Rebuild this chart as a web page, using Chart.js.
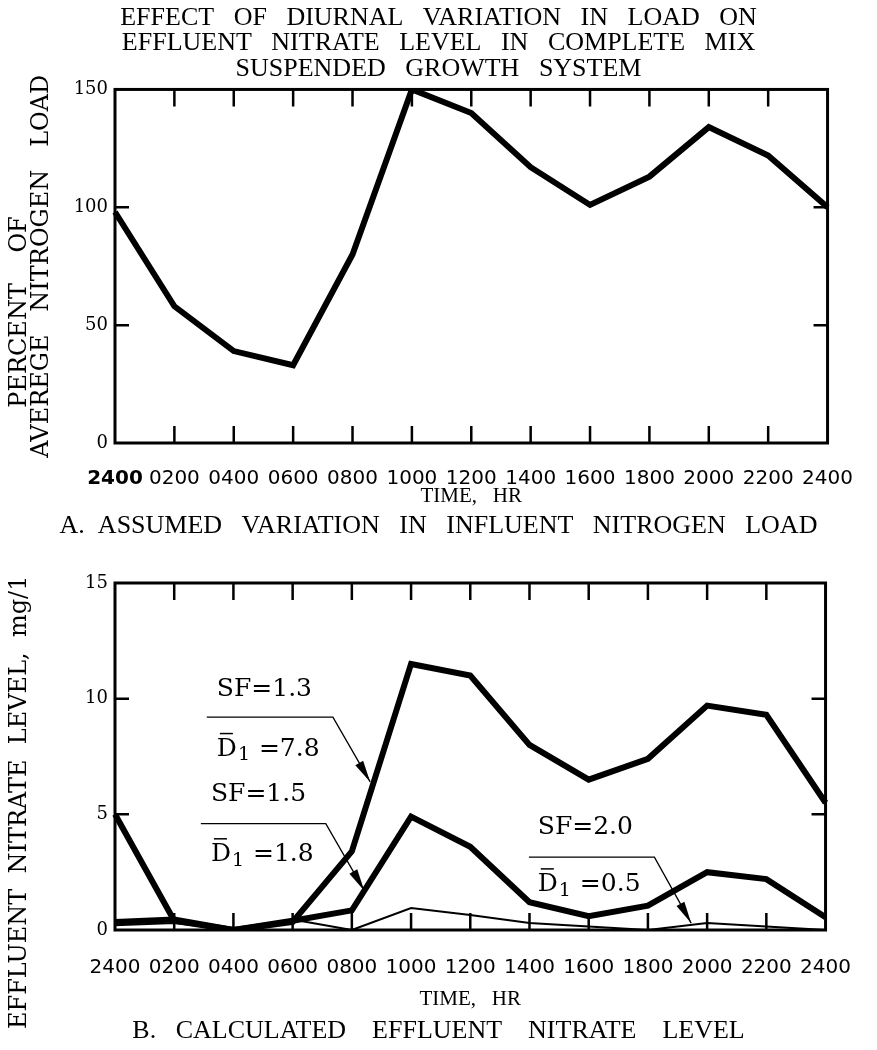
<!DOCTYPE html>
<html>
<head>
<meta charset="utf-8">
<title>Effect of diurnal variation in load on effluent nitrate level</title>
<script src="https://cdn.jsdelivr.net/npm/chart.js@4.4.1/dist/chart.umd.min.js"></script>
<style>
  body { margin: 0; background: #fff; }
  #wrap { position: relative; width: 877px; height: 1050px; }
  canvas { position: absolute; left: 0; }
</style>
</head>
<body>
<div id="wrap">
  <canvas id="load-chart" width="877" height="545" style="top:0"></canvas>
  <canvas id="nitrate-chart" width="877" height="505" style="top:545px"></canvas>
</div>
<script>
// time of day, every 2 hours, midnight to midnight
const hours = ['2400', '0200', '0400', '0600', '0800', '1000', '1200', '1400', '1600', '1800', '2000', '2200', '2400'];

// A. assumed influent nitrogen load, % of average
const loadPercent = [98, 58, 39, 33, 80, 150, 140, 117, 101, 113, 134, 122, 100];

// B. calculated effluent nitrate, mg/l
const nitrateSF13 = [5.0, 0.4, 0, 0.35, 3.4, 11.5, 11.0, 8.0, 6.5, 7.4, 9.7, 9.3, 5.5];
const nitrateSF15 = [0.35, 0.45, 0, 0.4, 0.85, 4.9, 3.6, 1.2, 0.6, 1.05, 2.5, 2.2, 0.55];
const nitrateSF20 = [0.2, 0.3, 0, 0.45, 0, 0.95, 0.65, 0.3, 0.15, 0, 0.3, 0.15, 0];

const loadAxis = { min: 0, max: 150, step: 50 };
const nitrateAxis = { min: 0, max: 15, step: 5 };

// curve labels: text spot, leader line and arrow tip, in data units (x = hour index)
const noteLabels = ['SF=1.3', 'SF=1.5', 'SF=2.0'];
const noteD1 = ['7.8', '1.8', '0.5'];
const noteText = [[1.72, 10.4], [1.62, 5.85], [7.14, 4.45]];
const noteD1Text = [[1.72, 7.8], [1.62, 3.25], [7.14, 1.95]];
const noteLeader = [[1.55, 3.68, 9.2], [1.45, 3.56, 4.6], [6.99, 9.11, 3.15]];
const noteTip = [[4.31, 6.4], [4.21, 1.7], [9.73, 0.3]];

const serif = '"Liberation Serif", serif';
const century = '"DejaVu Serif", serif';
const sans = '"DejaVu Sans", sans-serif';

// frame round the plot plus inward tick marks
const framePlugin = {
  id: 'frame',
  afterDatasetsDraw(chart) {
    const { ctx, chartArea: a, scales: { x, y } } = chart;
    ctx.save();
    ctx.strokeStyle = '#000';
    ctx.lineWidth = 3;
    ctx.strokeRect(a.left, a.top, a.width, a.height);
    ctx.lineWidth = 2.5;
    ctx.beginPath();
    for (let i = 1; i < x.ticks.length - 1; i++) {
      const px = x.getPixelForTick(i);
      ctx.moveTo(px, a.top); ctx.lineTo(px, a.top + 17);
      ctx.moveTo(px, a.bottom); ctx.lineTo(px, a.bottom - 17);
    }
    y.ticks.forEach(t => {
      if (t.value <= y.min || t.value >= y.max) return;
      const py = y.getPixelForValue(t.value);
      ctx.moveTo(a.left, py); ctx.lineTo(a.left + 14, py);
      ctx.moveTo(a.right, py); ctx.lineTo(a.right - 14, py);
    });
    ctx.stroke();
    ctx.restore();
  }
};

const notePlugin = {
  id: 'notes',
  afterDatasetsDraw(chart) {
    const { ctx, scales: { x, y } } = chart;
    ctx.save();
    ctx.fillStyle = '#000';
    ctx.strokeStyle = '#000';
    ctx.textBaseline = 'middle';
    ctx.textAlign = 'left';
    noteLabels.forEach((label, i) => {
      ctx.font = '25px ' + century;
      ctx.fillText(label, x.getPixelForValue(noteText[i][0]), y.getPixelForValue(noteText[i][1]));

      // D-bar with subscript 1
      const dx = x.getPixelForValue(noteD1Text[i][0]);
      const dy = y.getPixelForValue(noteD1Text[i][1]);
      ctx.fillText('D', dx, dy);
      const dw = ctx.measureText('D').width;
      ctx.lineWidth = 1.5;
      ctx.beginPath();
      ctx.moveTo(dx + 3, dy - 16); ctx.lineTo(dx + dw - 4, dy - 16);
      ctx.stroke();
      ctx.font = '19px ' + century;
      ctx.fillText('1', dx + dw + 1, dy + 6);
      const sw = ctx.measureText('1').width;
      ctx.font = '25px ' + century;
      ctx.fillText(' =' + noteD1[i], dx + dw + sw + 2, dy);

      // leader and arrow
      const [l0, l1, ly] = noteLeader[i];
      const bx = x.getPixelForValue(l1), by = y.getPixelForValue(ly);
      const tx = x.getPixelForValue(noteTip[i][0]), ty = y.getPixelForValue(noteTip[i][1]);
      ctx.lineWidth = 1.3;
      ctx.beginPath();
      ctx.moveTo(x.getPixelForValue(l0), by);
      ctx.lineTo(bx, by);
      ctx.lineTo(tx, ty);
      ctx.stroke();
      const ang = Math.atan2(ty - by, tx - bx);
      ctx.beginPath();
      ctx.moveTo(tx, ty);
      ctx.lineTo(tx - 22 * Math.cos(ang) + 4.5 * Math.sin(ang), ty - 22 * Math.sin(ang) - 4.5 * Math.cos(ang));
      ctx.lineTo(tx - 22 * Math.cos(ang) - 4.5 * Math.sin(ang), ty - 22 * Math.sin(ang) + 4.5 * Math.cos(ang));
      ctx.closePath();
      ctx.fill();
    });
    ctx.restore();
  }
};

function lineSet(data, width) {
  return {
    data: data,
    borderColor: '#000',
    borderWidth: width,
    borderJoinStyle: 'miter',
    pointRadius: 0,
    tension: 0,
    fill: false,
  };
}

function xScale(height, labelPad, titlePad, boldFirst) {
  return {
    grid: { display: false, drawTicks: false },
    border: { display: false },
    ticks: {
      autoSkip: false,
      maxRotation: 0,
      padding: labelPad,
      color: '#000',
      font: ctx => ({ family: sans, size: 20, weight: boldFirst && ctx.index === 0 ? 'bold' : 'normal' }),
    },
    title: {
      display: true,
      text: 'TIME,   HR',
      color: '#000',
      font: { family: serif, size: 21, lineHeight: 1.2 },
      padding: { top: 0, bottom: titlePad },
    },
    afterFit: s => { s.height = height; },
  };
}

function yScale(range, title, titleSize) {
  return {
    min: range.min,
    max: range.max,
    grid: { display: false, drawTicks: false },
    border: { display: false },
    ticks: {
      stepSize: range.step,
      padding: 7,
      color: '#000',
      font: { family: century, size: 18 },
    },
    title: {
      display: true,
      text: title,
      color: '#000',
      font: { family: century, size: titleSize, lineHeight: 0.92 },
      padding: { top: 9, bottom: 0 },
    },
    afterFit: s => { s.width = 115; },
  };
}

// empty strip on the right so the headings centre on the whole page
const rightStrip = {
  position: 'right',
  display: true,
  grid: { display: false, drawTicks: false },
  border: { display: false },
  ticks: { display: false },
  afterFit: s => { s.width = 45; },
};

new Chart(document.getElementById('load-chart'), {
  type: 'line',
  data: {
    labels: hours,
    datasets: [lineSet(loadPercent, 6)],
  },
  options: {
    responsive: false,
    animation: false,
    layout: { padding: 0 },
    plugins: {
      legend: { display: false },
      tooltip: { enabled: false },
      title: {
        display: true,
        text: [
          'EFFECT   OF   DIURNAL   VARIATION   IN   LOAD   ON',
          'EFFLUENT   NITRATE   LEVEL   IN   COMPLETE   MIX',
          'SUSPENDED   GROWTH   SYSTEM',
        ],
        color: '#000',
        font: { family: serif, size: 26, weight: 'normal', lineHeight: 0.98 },
        padding: { top: 5, bottom: 8 },
      },
      subtitle: {
        display: true,
        position: 'bottom',
        text: 'A.  ASSUMED   VARIATION   IN   INFLUENT   NITROGEN   LOAD',
        color: '#000',
        font: { family: serif, size: 26, lineHeight: 1 },
        padding: { top: 0, bottom: 6 },
      },
    },
    scales: {
      x: xScale(70, 24, 4, true),
      y: yScale(loadAxis, ['PERCENT    OF            ', 'AVEREGE   NITROGEN   LOAD'], 24),
      right: rightStrip,
    },
  },
  plugins: [framePlugin],
});

new Chart(document.getElementById('nitrate-chart'), {
  type: 'line',
  data: {
    labels: hours,
    datasets: [
      lineSet(nitrateSF13, 6),
      lineSet(nitrateSF15, 6),
      lineSet(nitrateSF20, 2),
    ],
  },
  options: {
    responsive: false,
    animation: false,
    layout: { padding: { top: 38, right: 0, bottom: 0, left: 0 } },
    plugins: {
      legend: { display: false },
      tooltip: { enabled: false },
      title: { display: false },
      subtitle: {
        display: true,
        position: 'bottom',
        text: 'B.   CALCULATED    EFFLUENT    NITRATE    LEVEL',
        color: '#000',
        font: { family: serif, size: 26, lineHeight: 1 },
        padding: { top: 4, bottom: 6 },
      },
    },
    scales: {
      x: xScale(84, 26, 2, false),
      y: yScale(nitrateAxis, 'EFFLUENT  NITRATE  LEVEL,  mg/1            ', 24),
      right: rightStrip,
    },
  },
  plugins: [framePlugin, notePlugin],
});
</script>
</body>
</html>
